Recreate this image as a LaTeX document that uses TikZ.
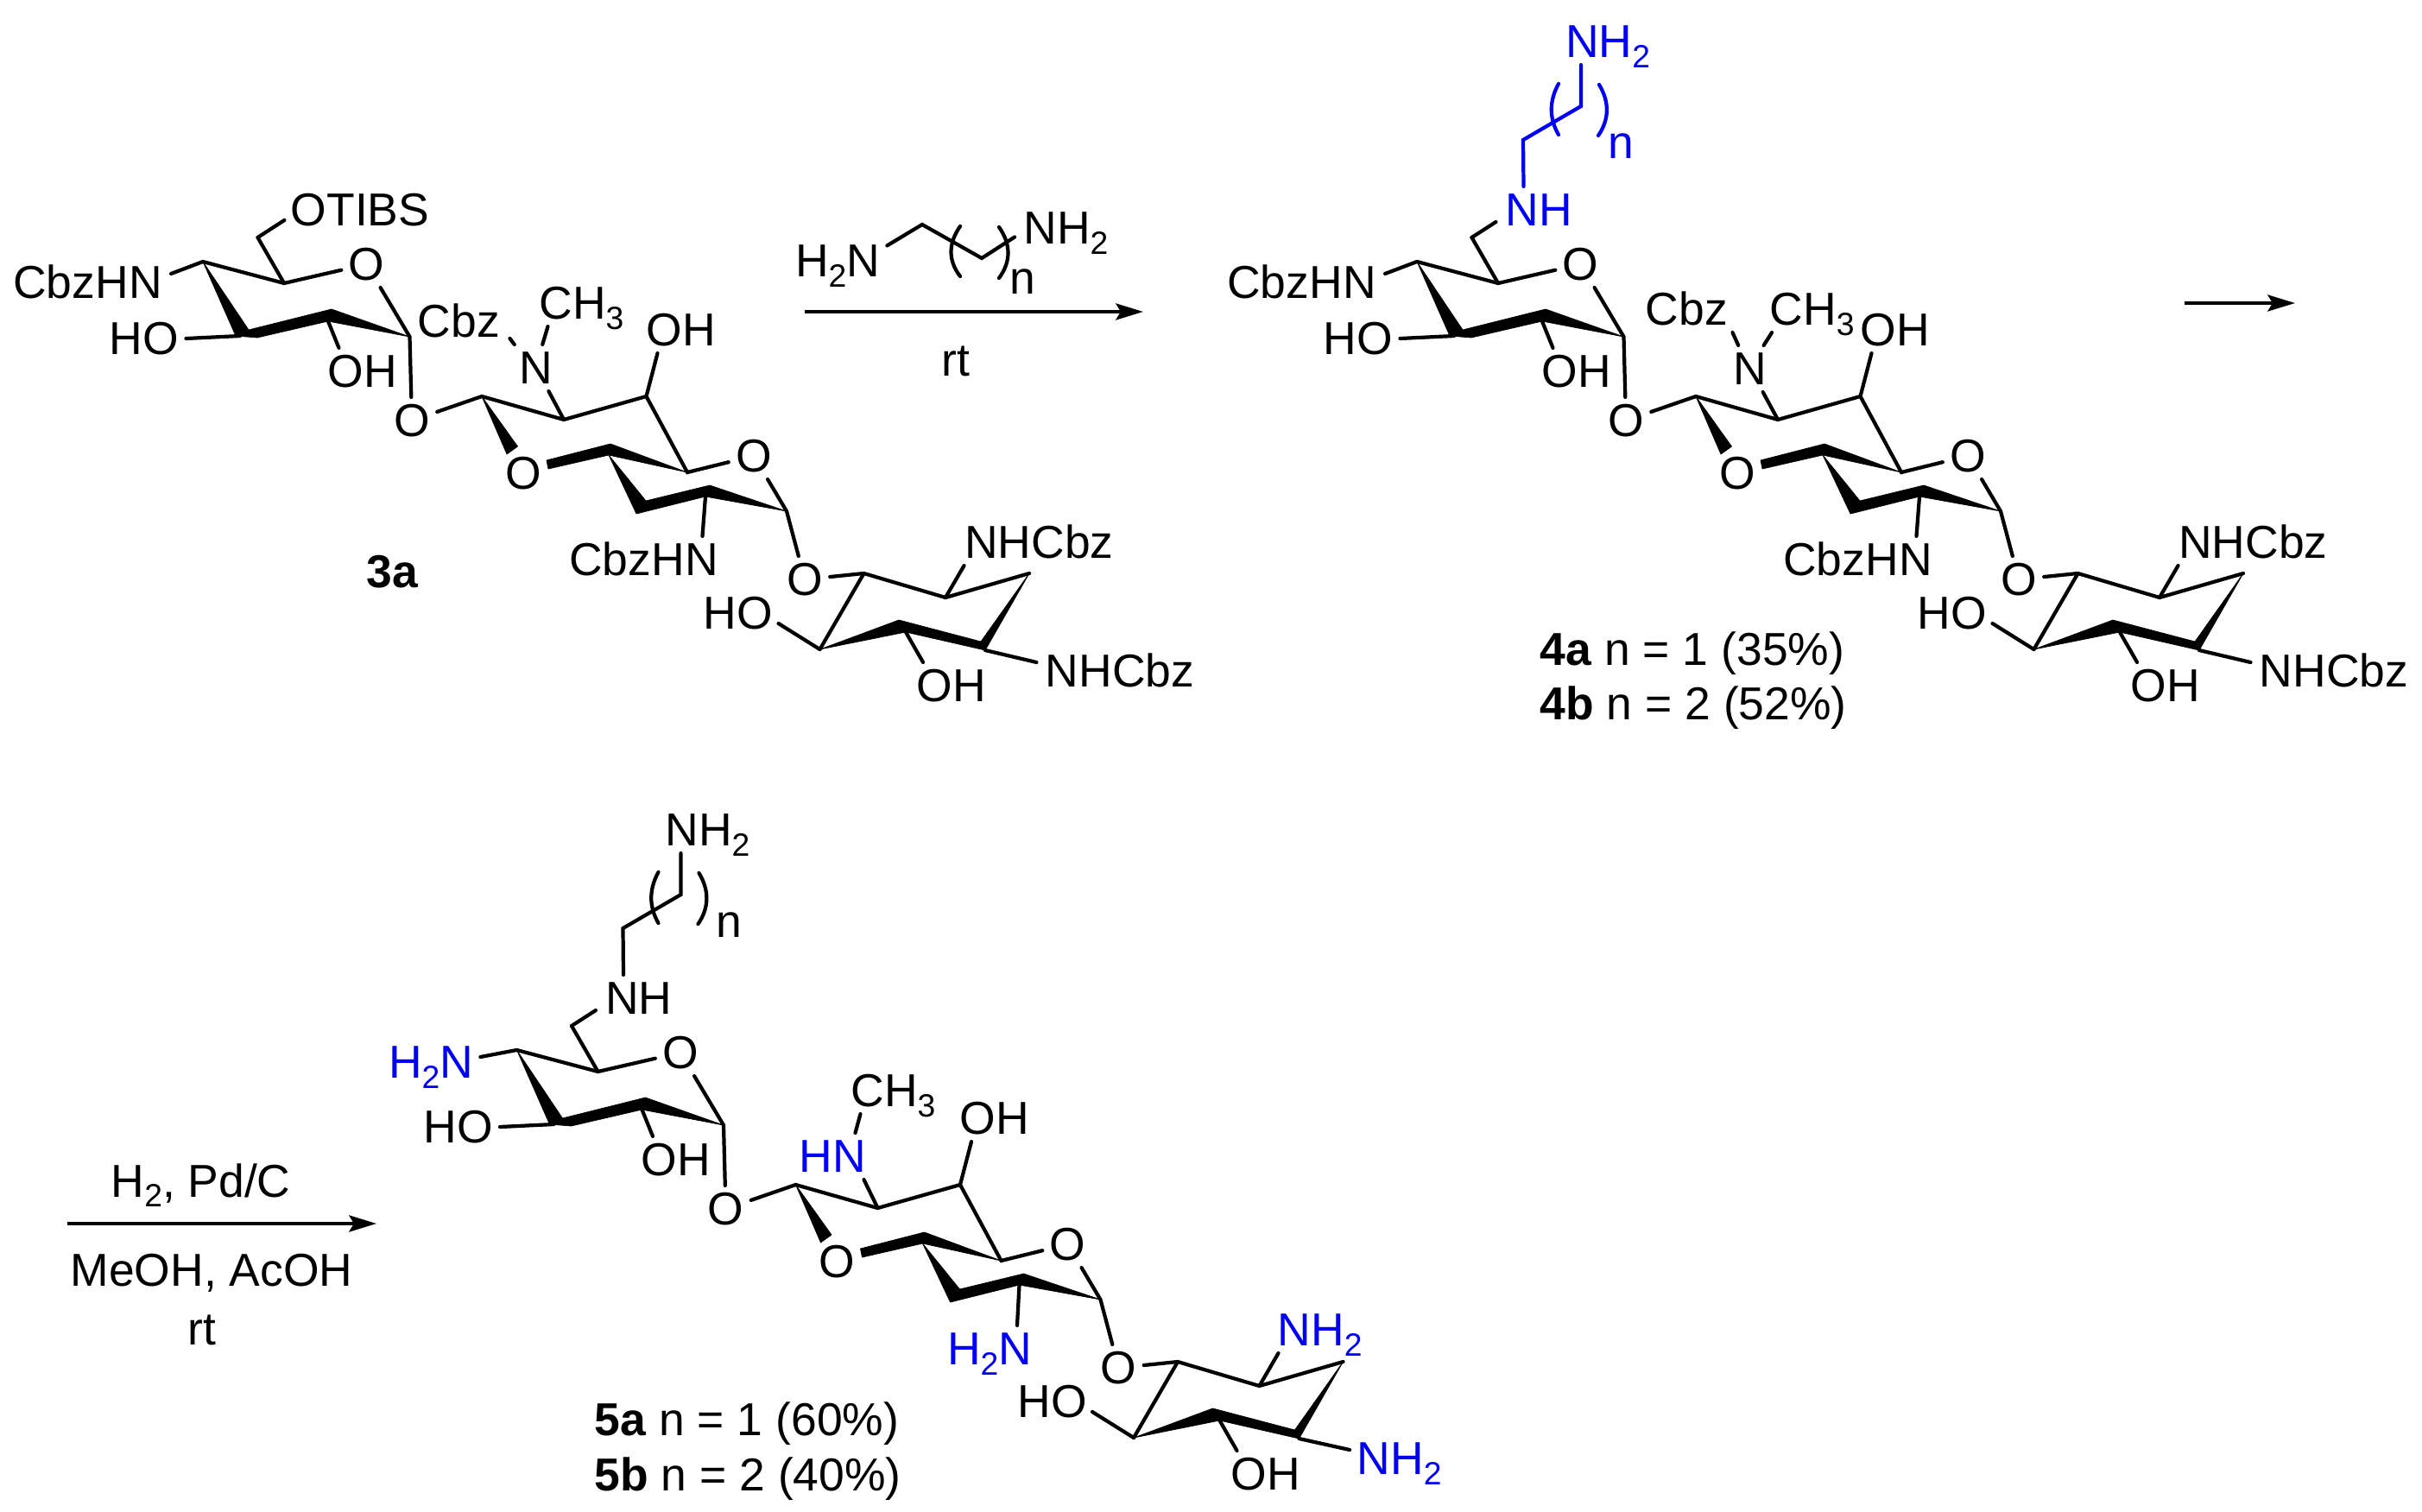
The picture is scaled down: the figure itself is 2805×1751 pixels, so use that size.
\documentclass[tikz,border=0pt]{standalone}
\usepackage{fontspec}
\setmainfont{Liberation Sans}
\usetikzlibrary{arrows.meta}
\definecolor{aminoblue}{RGB}{0,0,245}
\newcommand{\subd}[1]{\raisebox{-3.4pt}{\fontsize{10.6}{12}\selectfont #1}}
\tikzset{>={Stealth[length=9pt,width=5.4pt,inset=1.6pt]},
  atom/.style={font=\fontsize{15.2}{18}\selectfont,inner sep=2.2pt,text height=10.6pt,text depth=0pt},
  plain/.style={font=\fontsize{15.2}{18}\selectfont,inner sep=0pt,anchor=base west},
  bond/.style={line width=1.2pt,line cap=round,line join=miter},
  wedge/.style={fill=black,draw=black,line width=0.2pt,line join=round},
  rxn/.style={line width=1.2pt,->}}
% the part shared by all three compounds
\newcommand{\sugarcore}{
  \coordinate (ca4) at (235,303);
  \coordinate (ca5) at (329,328);
  \coordinate (ca1) at (474.5,390);
  \coordinate (ca3) at (278,389);
  \coordinate (ca2) at (380,372);
  \coordinate (cm) at (298.5,275);
  \coordinate (cb1) at (558,459);
  \coordinate (cb2) at (653,486);
  \coordinate (cb3) at (748.5,459);
  \coordinate (cb4) at (796,547);
  \coordinate (cc1) at (911,592);
  \coordinate (cd1) at (1000.5,664);
  \coordinate (cd2) at (1095,692);
  \coordinate (cd3) at (1192,664);
  \coordinate (cd4) at (949.5,752);
  \coordinate (cd5) at (1049,732);
  \coordinate (cd6) at (1141,753);
  \coordinate (ce1) at (817,575);
  \node[atom] (hoA) at (167,392) {HO};
  \node[atom] (ohA) at (419.5,430) {OH};
  \node[atom] (oA) at (424.5,306) {O};
  \node[atom] (oL) at (477,487) {O};
  \node[atom] (ohB) at (788.5,382) {OH};
  \node[atom] (oB) at (606,548) {O};
  \node[atom] (oC) at (873,528) {O};
  \node[atom] (oM) at (932,671) {O};
  \node[atom] (hoD) at (855,710) {HO};
  \node[atom] (ohD) at (1102,794) {OH};
  \fill[wedge] (ca4) -- (288,382) -- (384,358) -- (ca1) -- (ca2) -- (298,391) -- (273,389) -- cycle;
  \draw[bond] (ca4) -- (ca5) -- (oA) -- (ca1) -- (oL) -- (cb1) -- (cb2) -- (cb3) -- (cb4) -- (oC) -- (cc1) -- (oM) -- (cd1) -- (cd2) -- (cd3);
  \draw[bond] (ca5) -- (cm);
  \draw[bond] (hoA.east) -- (ca3);
  \draw[bond] (ca2) -- ([shift={(-27,0)}]ohA.north);
  \draw[bond] (cb3) -- ([shift={(-27,0)}]ohB.south);
  \fill[wedge] (cb1) -- (599.5,517) -- (587,526) -- cycle;
  \fill[wedge] (633,533) -- (707,514) -- (cb4) -- (705,527) -- (635,543) -- cycle;
  \fill[wedge] (705,527) -- (748,580) -- (822,562) -- (cc1) -- (ce1) -- (737,595) -- cycle;
  \fill[wedge] (cd4) -- (1041,718) -- (1136,743) -- (cd3) -- (cd6) -- (cd5) -- cycle;
  \draw[bond] (cd1) -- (cd4);
  \draw[bond] ([shift={(-2,12)}]hoD.east) -- (cd4);
  \draw[bond] (cd5) -- ([shift={(-33,0)}]ohD.north);
}
% the chain on C6
\newcommand{\aminetail}[3]{
  \node[atom,#1] (nhT) at (376.5,243) {NH};
  \node[atom,#1] (nhhT) at (456,48) {NH\subd{2}};
  \coordinate (ct1) at (358,162);
  \coordinate (ct2) at (425,123);
  \draw[bond] (cm) -- ([shift={(-3,14)}]nhT.west);
  \draw[bond,#1] ([shift={(-18,0)}]nhT.north) -- (ct1) -- (ct2) -- ([shift={(-31,0)}]nhhT.south);
  \draw[bond,#1] (399,97) .. controls (388,117) and (388,137) .. (399,156);
  \draw[bond,#1] (446,98) .. controls (458,118) and (458,138) .. (445,157);
  \node[plain,#1] (nT) at (#2,#3) {n};
}
\begin{document}
\begin{tikzpicture}[x=0.01cm,y=-0.01cm]
  \useasboundingbox (0,0) rectangle (2805,1751);

  % compound 3a
  \begin{scope}[name prefix=A-]
    \sugarcore
    \node[atom] (tbs) at (417,243) {OTIBS};
    \node[atom] (nhf) at (101.5,327) {CbzHN};
    \node[atom] (cbz) at (531.5,372) {Cbz};
    \node[atom] (nme) at (621,426) {N};
    \node[atom] (me) at (673.5,351) {CH\subd{3}};
    \node[atom] (nhl) at (745.5,648) {CbzHN};
    \node[atom] (nhu) at (1203.5,628) {NHCbz};
    \node[atom] (nhd) at (1297,777) {NHCbz};
    \draw[bond] (cm) -- ([shift={(1,12)}]tbs.west);
    \draw[bond] ([shift={(2,-10)}]nhf.east) -- (ca4);
    \draw[bond] ([shift={(3,20)}]cbz.east) -- (nme.133);
    \draw[bond] ([shift={(-39,0)}]me.south) -- (nme.75);
    \draw[bond] (nme) -- (cb2);
    \draw[bond] (ce1) -- ([shift={(68,0)}]nhl.north);
    \draw[bond] (cd2) -- ([shift={(-87,0)}]nhu.south);
    \draw[bond] (cd6) -- ([shift={(-2,-10)}]nhd.west);
    \node[plain] (lab3) at (424,680) {\bfseries 3a};
  \end{scope}

  % reagent and first arrow
  \node[atom] (dah) at (970,302) {H\subd{2}N};
  \node[atom] (dan) at (1234.5,263.5) {NH\subd{2}};
  \coordinate (dc1) at (1068,260);
  \coordinate (dc2) at (1137,299);
  \draw[bond] ([yshift=5pt]dah.east) -- (dc1) -- (dc2) -- ([shift={(-2,11)}]dan.west);
  \draw[bond] (1112,262) .. controls (1098,282) and (1098,302) .. (1112,320);
  \draw[bond] (1157,263) .. controls (1171,283) and (1171,303) .. (1157,322);
  \node[plain] (dn) at (1169,340) {n};
  \coordinate (ars) at (932,361);
  \coordinate (are) at (1324,361);
  \draw[rxn] (ars) -- (are);
  \node[plain] (rtA) at (1090,435) {rt};

  % compound 4
  \begin{scope}[shift={(1406,0)},name prefix=B-]
    \sugarcore
    \aminetail{aminoblue}{456}{183}
    \node[atom] (nhf) at (101.5,327) {CbzHN};
    \node[atom] (cbz) at (547.5,358) {Cbz};
    \node[atom] (nme) at (621,427) {N};
    \node[atom] (me) at (692.5,358) {CH\subd{3}};
    \node[atom] (nhl) at (745.5,648) {CbzHN};
    \node[atom] (nhu) at (1203.5,628) {NHCbz};
    \node[atom] (nhd) at (1297,777) {NHCbz};
    \draw[bond] ([shift={(2,-10)}]nhf.east) -- (ca4);
    \draw[bond] ([shift={(-3,27)}]cbz.east) -- (nme.117);
    \draw[bond] ([shift={(-46.5,0)}]me.south) -- (nme.60);
    \draw[bond] (nme) -- (cb2);
    \draw[bond] (ce1) -- ([shift={(68,0)}]nhl.north);
    \draw[bond] (cd2) -- ([shift={(-87,0)}]nhu.south);
    \draw[bond] (cd6) -- ([shift={(-2,-10)}]nhd.west);
  \end{scope}
  \node[plain] (lab4a) at (1783,770) {\textbf{4a} n = 1 (35\%)};
  \node[plain] (lab4b) at (1783,833) {\textbf{4b} n = 2 (52\%)};

  % second arrow
  \coordinate (brs) at (2530,351);
  \coordinate (bre) at (2658,351);
  \draw[rxn] (brs) -- (bre);

  % third arrow
  \coordinate (crs) at (78,1417);
  \coordinate (cre) at (436,1417);
  \draw[rxn] (crs) -- (cre);
  \node[plain] (pd) at (128,1386) {H\subd{2}, Pd/C};
  \node[plain] (meoh) at (81,1489) {MeOH, AcOH};
  \node[plain] (rtB) at (217,1557) {rt};

  % compound 5
  \begin{scope}[shift={(363.5,913)},name prefix=C-]
    \sugarcore
    \aminetail{black}{465}{172}
    \node[atom,aminoblue] (nhf) at (135.5,317) {H\subd{2}N};
    \node[atom,aminoblue] (nme) at (601,426) {HN};
    \node[atom] (me) at (671,350) {CH\subd{3}};
    \node[atom,aminoblue] (nhl) at (782.5,649) {H\subd{2}N};
    \node[atom,aminoblue] (nhu) at (1165,627) {NH\subd{2}};
    \node[atom,aminoblue] (nhd) at (1257,776) {NH\subd{2}};
    \draw[bond] ([shift={(0,-6)}]nhf.east) -- (ca4);
    \draw[bond] ([shift={(-38,0)}]me.south) -- ([shift={(26,0)}]nme.north);
    \draw[bond] ([shift={(36,0)}]nme.south) -- (cb2);
    \draw[bond] (ce1) -- ([shift={(32,0)}]nhl.north);
    \draw[bond] (cd2) -- ([shift={(-48,0)}]nhu.south);
    \draw[bond] (cd6) -- ([shift={(0,-10)}]nhd.west);
  \end{scope}
  \node[plain] (lab5a) at (688,1662) {\textbf{5a} n = 1 (60\%)};
  \node[plain] (lab5b) at (688,1726) {\textbf{5b} n = 2 (40\%)};

\end{tikzpicture}
\end{document}
